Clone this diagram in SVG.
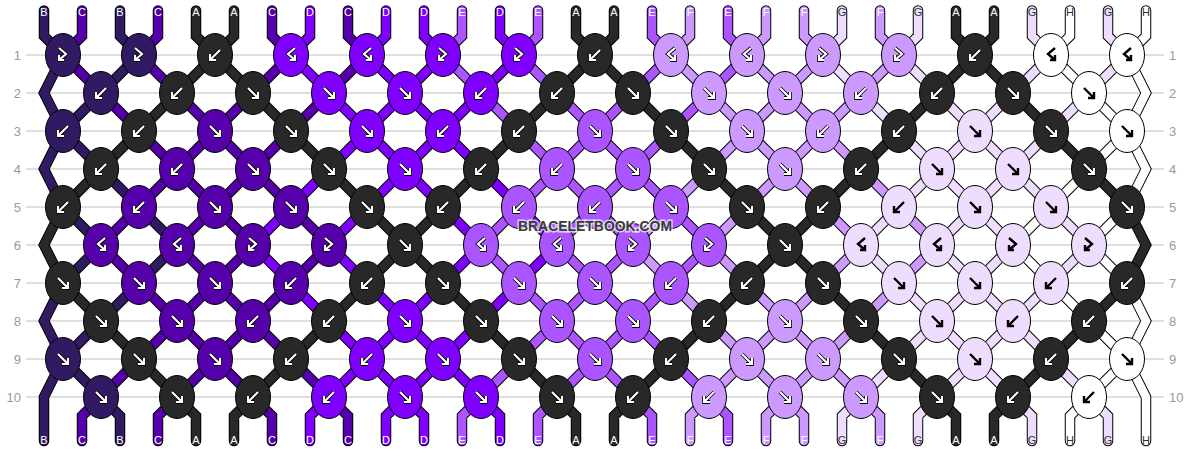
<svg xmlns="http://www.w3.org/2000/svg" xmlns:xlink="http://www.w3.org/1999/xlink" width="1190" height="452" viewBox="0 0 1190 452">
<style>
.A{fill:#282828}.B{fill:#301a62}.C{fill:#5500aa}.D{fill:#8000ff}.E{fill:#aa55ff}.F{fill:#cc99ff}.G{fill:#eeddff}.H{fill:#ffffff}
.lb{font-family:"Liberation Sans",Arial,sans-serif;font-size:11px;text-anchor:middle}
.lw{fill:#ffffff}.ld{fill:#333333}
.rn{font-family:"Liberation Sans",Arial,sans-serif;font-size:13px;fill:#999999}
</style>
<defs>
<ellipse id="kn" rx="17.5" ry="21.5" stroke="#000" stroke-width="1"/>
<path id="sF" fill="none" d="M-5-5L5 5M5-1V5H-1"/>
<path id="sB" fill="none" d="M5-5L-5 5M-5-1V5H1"/>
<path id="sFB" fill="none" d="M-4-7L3-1L-4 5M-4 0V5H1"/>
<path id="sBF" fill="none" d="M4-7L-3-1L4 5M4 0V5H-1"/>
<g id="wF" stroke-linejoin="miter"><use href="#sF" stroke="#000" stroke-width="3.8"/><use href="#sF" stroke="#fff" stroke-width="2.2"/></g>
<g id="wB" stroke-linejoin="miter"><use href="#sB" stroke="#000" stroke-width="3.8"/><use href="#sB" stroke="#fff" stroke-width="2.2"/></g>
<g id="wFB" stroke-linejoin="miter"><use href="#sFB" stroke="#000" stroke-width="3.8"/><use href="#sFB" stroke="#fff" stroke-width="2.2"/></g>
<g id="wBF" stroke-linejoin="miter"><use href="#sBF" stroke="#000" stroke-width="3.8"/><use href="#sBF" stroke="#fff" stroke-width="2.2"/></g>
<use id="bF" href="#sF" stroke="#000" stroke-width="2.4"/>
<use id="bB" href="#sB" stroke="#000" stroke-width="2.4"/>
<use id="bFB" href="#sFB" stroke="#000" stroke-width="2.4"/>
<use id="bBF" href="#sBF" stroke="#000" stroke-width="2.4"/>
<path id="pA" d="M215 55l-38 38M595 55l-38 38M975 55l-38 38M215 55l38 38M595 55l38 38M975 55l38 38M177 93l-38 38M557 93l-38 38M937 93l-38 38M253 93l38 38M633 93l38 38M1013 93l38 38M139 131l-38 38M519 131l-38 38M899 131l-38 38M291 131l38 38M671 131l38 38M1051 131l38 38M101 169l-38 38M481 169l-38 38M861 169l-38 38M329 169l38 38M709 169l38 38M1089 169l38 38M443 207l-38 38M823 207l-38 38M367 207l38 38M747 207l38 38M63 207L44 245L63 283M1127 207L1146 245L1127 283M405 245l-38 38M785 245l-38 38M405 245l38 38M785 245l38 38M367 283l-38 38M747 283l-38 38M1127 283l-38 38M63 283l38 38M443 283l38 38M823 283l38 38M329 321l-38 38M709 321l-38 38M1089 321l-38 38M101 321l38 38M481 321l38 38M861 321l38 38M291 359l-38 38M671 359l-38 38M1051 359l-38 38M139 359l38 38M519 359l38 38M899 359l38 38M253 397l-19 19V441M633 397l-19 19V441M1013 397l-19 19V441M177 397l19 19V441M557 397l19 19V441M937 397l19 19V441M196 10.5V36l19 19M234 10.5V36l-19 19M576 10.5V36l19 19M614 10.5V36l-19 19M956 10.5V36l19 19M994 10.5V36l-19 19"/>
<path id="pB" d="M139 55l-38 38M101 93l-38 38M63 131l38 38M101 169l38 38M63 207l38 38M139 207l38 38M101 245l-38 38M177 245l-38 38M139 283l-38 38M101 321l-38 38M63 359l38 38M101 397l19 19V441M44 10.5V36l19 19M120 10.5V36l19 19M63 55L44 93L63 131M63 131L44 169L63 207M63 283L44 321L63 359M63 359L44 397V441"/>
<path id="pC" d="M63 55l38 38M139 55l38 38M291 55l-38 38M367 55l-38 38M101 93l38 38M177 93l38 38M253 93l-38 38M329 93l-38 38M215 131l-38 38M291 131l-38 38M139 131l38 38M215 131l38 38M177 169l-38 38M253 169l-38 38M177 169l38 38M253 169l38 38M139 207l-38 38M215 207l-38 38M215 207l38 38M291 207l38 38M253 245l-38 38M329 245l-38 38M101 245l38 38M177 245l38 38M215 283l-38 38M291 283l-38 38M139 283l38 38M215 283l38 38M177 321l-38 38M253 321l-38 38M177 321l38 38M253 321l38 38M139 359l-38 38M215 359l-38 38M215 359l38 38M291 359l38 38M101 397l-19 19V441M177 397l-19 19V441M253 397l19 19V441M329 397l19 19V441M82 10.5V36l-19 19M158 10.5V36l-19 19M272 10.5V36l19 19M348 10.5V36l19 19"/>
<path id="pD" d="M291 55l38 38M367 55l38 38M443 55l-38 38M519 55l-38 38M405 93l-38 38M481 93l-38 38M329 93l38 38M405 93l38 38M367 131l-38 38M443 131l-38 38M367 131l38 38M443 131l38 38M329 169l-38 38M405 169l-38 38M405 169l38 38M481 169l38 38M291 207l-38 38M367 207l-38 38M443 207l38 38M519 207l38 38M481 245l-38 38M557 245l-38 38M253 245l38 38M329 245l38 38M443 283l-38 38M519 283l-38 38M291 283l38 38M367 283l38 38M405 321l-38 38M481 321l-38 38M329 321l38 38M405 321l38 38M367 359l-38 38M443 359l-38 38M367 359l38 38M443 359l38 38M329 397l-19 19V441M405 397l-19 19V441M405 397l19 19V441M481 397l19 19V441M310 10.5V36l-19 19M386 10.5V36l-19 19M424 10.5V36l19 19M500 10.5V36l19 19"/>
<path id="pE" d="M443 55l38 38M519 55l38 38M671 55l-38 38M747 55l-38 38M633 93l-38 38M709 93l-38 38M481 93l38 38M557 93l38 38M595 131l-38 38M671 131l-38 38M519 131l38 38M595 131l38 38M557 169l-38 38M633 169l-38 38M557 169l38 38M633 169l38 38M519 207l-38 38M595 207l-38 38M595 207l38 38M671 207l38 38M633 245l-38 38M709 245l-38 38M481 245l38 38M557 245l38 38M595 283l-38 38M671 283l-38 38M519 283l38 38M595 283l38 38M557 321l-38 38M633 321l-38 38M557 321l38 38M633 321l38 38M519 359l-38 38M595 359l-38 38M595 359l38 38M671 359l38 38M481 397l-19 19V441M557 397l-19 19V441M633 397l19 19V441M709 397l19 19V441M462 10.5V36l-19 19M538 10.5V36l-19 19M652 10.5V36l19 19M728 10.5V36l19 19"/>
<path id="pF" d="M671 55l38 38M747 55l38 38M823 55l-38 38M899 55l-38 38M785 93l-38 38M861 93l-38 38M709 93l38 38M785 93l38 38M747 131l-38 38M823 131l-38 38M747 131l38 38M823 131l38 38M709 169l-38 38M785 169l-38 38M785 169l38 38M861 169l38 38M671 207l-38 38M747 207l-38 38M823 207l38 38M899 207l38 38M861 245l-38 38M937 245l-38 38M633 245l38 38M709 245l38 38M823 283l-38 38M899 283l-38 38M671 283l38 38M747 283l38 38M785 321l-38 38M861 321l-38 38M709 321l38 38M785 321l38 38M747 359l-38 38M823 359l-38 38M747 359l38 38M823 359l38 38M709 397l-19 19V441M785 397l-19 19V441M785 397l19 19V441M861 397l19 19V441M690 10.5V36l-19 19M766 10.5V36l-19 19M804 10.5V36l19 19M880 10.5V36l19 19"/>
<path id="pG" d="M823 55l38 38M899 55l38 38M1051 55l-38 38M1127 55l-38 38M1013 93l-38 38M1089 93l-38 38M861 93l38 38M937 93l38 38M975 131l-38 38M1051 131l-38 38M899 131l38 38M975 131l38 38M937 169l-38 38M1013 169l-38 38M937 169l38 38M1013 169l38 38M899 207l-38 38M975 207l-38 38M975 207l38 38M1051 207l38 38M1013 245l-38 38M1089 245l-38 38M861 245l38 38M937 245l38 38M975 283l-38 38M1051 283l-38 38M899 283l38 38M975 283l38 38M937 321l-38 38M1013 321l-38 38M937 321l38 38M1013 321l38 38M899 359l-38 38M975 359l-38 38M975 359l38 38M1051 359l38 38M861 397l-19 19V441M937 397l-19 19V441M1013 397l19 19V441M1089 397l19 19V441M842 10.5V36l-19 19M918 10.5V36l-19 19M1032 10.5V36l19 19M1108 10.5V36l19 19"/>
<path id="pH" d="M1051 55l38 38M1089 93l38 38M1127 131l-38 38M1089 169l-38 38M1051 207l-38 38M1127 207l-38 38M1013 245l38 38M1089 245l38 38M1051 283l38 38M1089 321l38 38M1127 359l-38 38M1089 397l-19 19V441M1070 10.5V36l-19 19M1146 10.5V36l-19 19M1127 55L1146 93L1127 131M1127 131L1146 169L1127 207M1127 283L1146 321L1127 359M1127 359L1146 397V441"/>
</defs>
<rect width="1190" height="452" fill="#ffffff"/>
<g id="grid" stroke="#c0c0c0" stroke-width="1" fill="none">
<path d="M26 55H1164M26 93H1164M26 131H1164M26 169H1164M26 207H1164M26 245H1164M26 283H1164M26 321H1164M26 359H1164M26 397H1164"/>
</g>
<g id="row-numbers">
<text class="rn" x="21" y="60" text-anchor="end">1</text><text class="rn" x="21" y="98" text-anchor="end">2</text><text class="rn" x="21" y="136" text-anchor="end">3</text><text class="rn" x="21" y="174" text-anchor="end">4</text><text class="rn" x="21" y="212" text-anchor="end">5</text><text class="rn" x="21" y="250" text-anchor="end">6</text><text class="rn" x="21" y="288" text-anchor="end">7</text><text class="rn" x="21" y="326" text-anchor="end">8</text><text class="rn" x="21" y="364" text-anchor="end">9</text><text class="rn" x="21" y="402" text-anchor="end">10</text>
<text class="rn" x="1169" y="60">1</text><text class="rn" x="1169" y="98">2</text><text class="rn" x="1169" y="136">3</text><text class="rn" x="1169" y="174">4</text><text class="rn" x="1169" y="212">5</text><text class="rn" x="1169" y="250">6</text><text class="rn" x="1169" y="288">7</text><text class="rn" x="1169" y="326">8</text><text class="rn" x="1169" y="364">9</text><text class="rn" x="1169" y="402">10</text>
</g>
<g id="threads" fill="none" stroke-linecap="round" stroke-linejoin="miter">
<g stroke="#000" stroke-width="10.5"><use href="#pA"/><use href="#pB"/><use href="#pC"/><use href="#pD"/><use href="#pE"/><use href="#pF"/><use href="#pG"/><use href="#pH"/></g>
<g stroke-width="8.5"><use href="#pA" stroke="#282828"/><use href="#pB" stroke="#301a62"/><use href="#pC" stroke="#5500aa"/><use href="#pD" stroke="#8000ff"/><use href="#pE" stroke="#aa55ff"/><use href="#pF" stroke="#cc99ff"/><use href="#pG" stroke="#eeddff"/><use href="#pH" stroke="#ffffff"/></g>
</g>
<g id="labels-top">
<text class="lb lw" x="44" y="16">B</text><text class="lb lw" x="82" y="16">C</text><text class="lb lw" x="120" y="16">B</text><text class="lb lw" x="158" y="16">C</text><text class="lb lw" x="196" y="16">A</text><text class="lb lw" x="234" y="16">A</text><text class="lb lw" x="272" y="16">C</text><text class="lb lw" x="310" y="16">D</text><text class="lb lw" x="348" y="16">C</text><text class="lb lw" x="386" y="16">D</text><text class="lb lw" x="424" y="16">D</text><text class="lb lw" x="462" y="16">E</text><text class="lb lw" x="500" y="16">D</text><text class="lb lw" x="538" y="16">E</text><text class="lb lw" x="576" y="16">A</text><text class="lb lw" x="614" y="16">A</text><text class="lb lw" x="652" y="16">E</text><text class="lb lw" x="690" y="16">F</text><text class="lb lw" x="728" y="16">E</text><text class="lb lw" x="766" y="16">F</text><text class="lb lw" x="804" y="16">F</text><text class="lb ld" x="842" y="16">G</text><text class="lb lw" x="880" y="16">F</text><text class="lb ld" x="918" y="16">G</text><text class="lb lw" x="956" y="16">A</text><text class="lb lw" x="994" y="16">A</text><text class="lb ld" x="1032" y="16">G</text><text class="lb ld" x="1070" y="16">H</text><text class="lb ld" x="1108" y="16">G</text><text class="lb ld" x="1146" y="16">H</text>
</g>
<g id="labels-bottom">
<text class="lb lw" x="44" y="444">B</text><text class="lb lw" x="82" y="444">C</text><text class="lb lw" x="120" y="444">B</text><text class="lb lw" x="158" y="444">C</text><text class="lb lw" x="196" y="444">A</text><text class="lb lw" x="234" y="444">A</text><text class="lb lw" x="272" y="444">C</text><text class="lb lw" x="310" y="444">D</text><text class="lb lw" x="348" y="444">C</text><text class="lb lw" x="386" y="444">D</text><text class="lb lw" x="424" y="444">D</text><text class="lb lw" x="462" y="444">E</text><text class="lb lw" x="500" y="444">D</text><text class="lb lw" x="538" y="444">E</text><text class="lb lw" x="576" y="444">A</text><text class="lb lw" x="614" y="444">A</text><text class="lb lw" x="652" y="444">E</text><text class="lb lw" x="690" y="444">F</text><text class="lb lw" x="728" y="444">E</text><text class="lb lw" x="766" y="444">F</text><text class="lb lw" x="804" y="444">F</text><text class="lb ld" x="842" y="444">G</text><text class="lb lw" x="880" y="444">F</text><text class="lb ld" x="918" y="444">G</text><text class="lb lw" x="956" y="444">A</text><text class="lb lw" x="994" y="444">A</text><text class="lb ld" x="1032" y="444">G</text><text class="lb ld" x="1070" y="444">H</text><text class="lb ld" x="1108" y="444">G</text><text class="lb ld" x="1146" y="444">H</text>
</g>
<g id="knots">
<g id="r1k1" transform="translate(63 55)"><use href="#kn" class="B"/><use href="#wFB"/></g>
<g id="r1k2" transform="translate(139 55)"><use href="#kn" class="B"/><use href="#wFB"/></g>
<g id="r1k3" transform="translate(215 55)"><use href="#kn" class="A"/><use href="#wB"/></g>
<g id="r1k4" transform="translate(291 55)"><use href="#kn" class="D"/><use href="#wBF"/></g>
<g id="r1k5" transform="translate(367 55)"><use href="#kn" class="D"/><use href="#wBF"/></g>
<g id="r1k6" transform="translate(443 55)"><use href="#kn" class="D"/><use href="#wFB"/></g>
<g id="r1k7" transform="translate(519 55)"><use href="#kn" class="D"/><use href="#wFB"/></g>
<g id="r1k8" transform="translate(595 55)"><use href="#kn" class="A"/><use href="#wB"/></g>
<g id="r1k9" transform="translate(671 55)"><use href="#kn" class="F"/><use href="#wBF"/></g>
<g id="r1k10" transform="translate(747 55)"><use href="#kn" class="F"/><use href="#wBF"/></g>
<g id="r1k11" transform="translate(823 55)"><use href="#kn" class="F"/><use href="#wFB"/></g>
<g id="r1k12" transform="translate(899 55)"><use href="#kn" class="F"/><use href="#wFB"/></g>
<g id="r1k13" transform="translate(975 55)"><use href="#kn" class="A"/><use href="#wB"/></g>
<g id="r1k14" transform="translate(1051 55)"><use href="#kn" class="H"/><use href="#bBF"/></g>
<g id="r1k15" transform="translate(1127 55)"><use href="#kn" class="H"/><use href="#bBF"/></g>
<g id="r2k1" transform="translate(101 93)"><use href="#kn" class="B"/><use href="#wB"/></g>
<g id="r2k2" transform="translate(177 93)"><use href="#kn" class="A"/><use href="#wB"/></g>
<g id="r2k3" transform="translate(253 93)"><use href="#kn" class="A"/><use href="#wF"/></g>
<g id="r2k4" transform="translate(329 93)"><use href="#kn" class="D"/><use href="#wF"/></g>
<g id="r2k5" transform="translate(405 93)"><use href="#kn" class="D"/><use href="#wF"/></g>
<g id="r2k6" transform="translate(481 93)"><use href="#kn" class="D"/><use href="#wB"/></g>
<g id="r2k7" transform="translate(557 93)"><use href="#kn" class="A"/><use href="#wB"/></g>
<g id="r2k8" transform="translate(633 93)"><use href="#kn" class="A"/><use href="#wF"/></g>
<g id="r2k9" transform="translate(709 93)"><use href="#kn" class="F"/><use href="#wF"/></g>
<g id="r2k10" transform="translate(785 93)"><use href="#kn" class="F"/><use href="#wF"/></g>
<g id="r2k11" transform="translate(861 93)"><use href="#kn" class="F"/><use href="#wB"/></g>
<g id="r2k12" transform="translate(937 93)"><use href="#kn" class="A"/><use href="#wB"/></g>
<g id="r2k13" transform="translate(1013 93)"><use href="#kn" class="A"/><use href="#wF"/></g>
<g id="r2k14" transform="translate(1089 93)"><use href="#kn" class="H"/><use href="#bF"/></g>
<g id="r3k1" transform="translate(63 131)"><use href="#kn" class="B"/><use href="#wB"/></g>
<g id="r3k2" transform="translate(139 131)"><use href="#kn" class="A"/><use href="#wB"/></g>
<g id="r3k3" transform="translate(215 131)"><use href="#kn" class="C"/><use href="#wF"/></g>
<g id="r3k4" transform="translate(291 131)"><use href="#kn" class="A"/><use href="#wF"/></g>
<g id="r3k5" transform="translate(367 131)"><use href="#kn" class="D"/><use href="#wF"/></g>
<g id="r3k6" transform="translate(443 131)"><use href="#kn" class="D"/><use href="#wB"/></g>
<g id="r3k7" transform="translate(519 131)"><use href="#kn" class="A"/><use href="#wB"/></g>
<g id="r3k8" transform="translate(595 131)"><use href="#kn" class="E"/><use href="#wF"/></g>
<g id="r3k9" transform="translate(671 131)"><use href="#kn" class="A"/><use href="#wF"/></g>
<g id="r3k10" transform="translate(747 131)"><use href="#kn" class="F"/><use href="#wF"/></g>
<g id="r3k11" transform="translate(823 131)"><use href="#kn" class="F"/><use href="#wB"/></g>
<g id="r3k12" transform="translate(899 131)"><use href="#kn" class="A"/><use href="#wB"/></g>
<g id="r3k13" transform="translate(975 131)"><use href="#kn" class="G"/><use href="#bF"/></g>
<g id="r3k14" transform="translate(1051 131)"><use href="#kn" class="A"/><use href="#wF"/></g>
<g id="r3k15" transform="translate(1127 131)"><use href="#kn" class="H"/><use href="#bF"/></g>
<g id="r4k1" transform="translate(101 169)"><use href="#kn" class="A"/><use href="#wB"/></g>
<g id="r4k2" transform="translate(177 169)"><use href="#kn" class="C"/><use href="#wB"/></g>
<g id="r4k3" transform="translate(253 169)"><use href="#kn" class="C"/><use href="#wF"/></g>
<g id="r4k4" transform="translate(329 169)"><use href="#kn" class="A"/><use href="#wF"/></g>
<g id="r4k5" transform="translate(405 169)"><use href="#kn" class="D"/><use href="#wF"/></g>
<g id="r4k6" transform="translate(481 169)"><use href="#kn" class="A"/><use href="#wB"/></g>
<g id="r4k7" transform="translate(557 169)"><use href="#kn" class="E"/><use href="#wB"/></g>
<g id="r4k8" transform="translate(633 169)"><use href="#kn" class="E"/><use href="#wF"/></g>
<g id="r4k9" transform="translate(709 169)"><use href="#kn" class="A"/><use href="#wF"/></g>
<g id="r4k10" transform="translate(785 169)"><use href="#kn" class="F"/><use href="#wF"/></g>
<g id="r4k11" transform="translate(861 169)"><use href="#kn" class="A"/><use href="#wB"/></g>
<g id="r4k12" transform="translate(937 169)"><use href="#kn" class="G"/><use href="#bF"/></g>
<g id="r4k13" transform="translate(1013 169)"><use href="#kn" class="G"/><use href="#bF"/></g>
<g id="r4k14" transform="translate(1089 169)"><use href="#kn" class="A"/><use href="#wF"/></g>
<g id="r5k1" transform="translate(63 207)"><use href="#kn" class="A"/><use href="#wB"/></g>
<g id="r5k2" transform="translate(139 207)"><use href="#kn" class="C"/><use href="#wB"/></g>
<g id="r5k3" transform="translate(215 207)"><use href="#kn" class="C"/><use href="#wF"/></g>
<g id="r5k4" transform="translate(291 207)"><use href="#kn" class="C"/><use href="#wF"/></g>
<g id="r5k5" transform="translate(367 207)"><use href="#kn" class="A"/><use href="#wF"/></g>
<g id="r5k6" transform="translate(443 207)"><use href="#kn" class="A"/><use href="#wB"/></g>
<g id="r5k7" transform="translate(519 207)"><use href="#kn" class="E"/><use href="#wB"/></g>
<g id="r5k8" transform="translate(595 207)"><use href="#kn" class="E"/><use href="#wB"/></g>
<g id="r5k9" transform="translate(671 207)"><use href="#kn" class="E"/><use href="#wF"/></g>
<g id="r5k10" transform="translate(747 207)"><use href="#kn" class="A"/><use href="#wF"/></g>
<g id="r5k11" transform="translate(823 207)"><use href="#kn" class="A"/><use href="#wB"/></g>
<g id="r5k12" transform="translate(899 207)"><use href="#kn" class="G"/><use href="#bB"/></g>
<g id="r5k13" transform="translate(975 207)"><use href="#kn" class="G"/><use href="#bF"/></g>
<g id="r5k14" transform="translate(1051 207)"><use href="#kn" class="G"/><use href="#bF"/></g>
<g id="r5k15" transform="translate(1127 207)"><use href="#kn" class="A"/><use href="#wF"/></g>
<g id="r6k1" transform="translate(101 245)"><use href="#kn" class="C"/><use href="#wBF"/></g>
<g id="r6k2" transform="translate(177 245)"><use href="#kn" class="C"/><use href="#wBF"/></g>
<g id="r6k3" transform="translate(253 245)"><use href="#kn" class="C"/><use href="#wFB"/></g>
<g id="r6k4" transform="translate(329 245)"><use href="#kn" class="C"/><use href="#wFB"/></g>
<g id="r6k5" transform="translate(405 245)"><use href="#kn" class="A"/><use href="#wF"/></g>
<g id="r6k6" transform="translate(481 245)"><use href="#kn" class="E"/><use href="#wBF"/></g>
<g id="r6k7" transform="translate(557 245)"><use href="#kn" class="E"/><use href="#wBF"/></g>
<g id="r6k8" transform="translate(633 245)"><use href="#kn" class="E"/><use href="#wFB"/></g>
<g id="r6k9" transform="translate(709 245)"><use href="#kn" class="E"/><use href="#wFB"/></g>
<g id="r6k10" transform="translate(785 245)"><use href="#kn" class="A"/><use href="#wF"/></g>
<g id="r6k11" transform="translate(861 245)"><use href="#kn" class="G"/><use href="#bBF"/></g>
<g id="r6k12" transform="translate(937 245)"><use href="#kn" class="G"/><use href="#bBF"/></g>
<g id="r6k13" transform="translate(1013 245)"><use href="#kn" class="G"/><use href="#bFB"/></g>
<g id="r6k14" transform="translate(1089 245)"><use href="#kn" class="G"/><use href="#bFB"/></g>
<g id="r7k1" transform="translate(63 283)"><use href="#kn" class="A"/><use href="#wF"/></g>
<g id="r7k2" transform="translate(139 283)"><use href="#kn" class="C"/><use href="#wF"/></g>
<g id="r7k3" transform="translate(215 283)"><use href="#kn" class="C"/><use href="#wF"/></g>
<g id="r7k4" transform="translate(291 283)"><use href="#kn" class="C"/><use href="#wB"/></g>
<g id="r7k5" transform="translate(367 283)"><use href="#kn" class="A"/><use href="#wB"/></g>
<g id="r7k6" transform="translate(443 283)"><use href="#kn" class="A"/><use href="#wF"/></g>
<g id="r7k7" transform="translate(519 283)"><use href="#kn" class="E"/><use href="#wF"/></g>
<g id="r7k8" transform="translate(595 283)"><use href="#kn" class="E"/><use href="#wF"/></g>
<g id="r7k9" transform="translate(671 283)"><use href="#kn" class="E"/><use href="#wB"/></g>
<g id="r7k10" transform="translate(747 283)"><use href="#kn" class="A"/><use href="#wB"/></g>
<g id="r7k11" transform="translate(823 283)"><use href="#kn" class="A"/><use href="#wF"/></g>
<g id="r7k12" transform="translate(899 283)"><use href="#kn" class="G"/><use href="#bF"/></g>
<g id="r7k13" transform="translate(975 283)"><use href="#kn" class="G"/><use href="#bF"/></g>
<g id="r7k14" transform="translate(1051 283)"><use href="#kn" class="G"/><use href="#bB"/></g>
<g id="r7k15" transform="translate(1127 283)"><use href="#kn" class="A"/><use href="#wB"/></g>
<g id="r8k1" transform="translate(101 321)"><use href="#kn" class="A"/><use href="#wF"/></g>
<g id="r8k2" transform="translate(177 321)"><use href="#kn" class="C"/><use href="#wF"/></g>
<g id="r8k3" transform="translate(253 321)"><use href="#kn" class="C"/><use href="#wB"/></g>
<g id="r8k4" transform="translate(329 321)"><use href="#kn" class="A"/><use href="#wB"/></g>
<g id="r8k5" transform="translate(405 321)"><use href="#kn" class="D"/><use href="#wF"/></g>
<g id="r8k6" transform="translate(481 321)"><use href="#kn" class="A"/><use href="#wF"/></g>
<g id="r8k7" transform="translate(557 321)"><use href="#kn" class="E"/><use href="#wF"/></g>
<g id="r8k8" transform="translate(633 321)"><use href="#kn" class="E"/><use href="#wF"/></g>
<g id="r8k9" transform="translate(709 321)"><use href="#kn" class="A"/><use href="#wB"/></g>
<g id="r8k10" transform="translate(785 321)"><use href="#kn" class="F"/><use href="#wF"/></g>
<g id="r8k11" transform="translate(861 321)"><use href="#kn" class="A"/><use href="#wF"/></g>
<g id="r8k12" transform="translate(937 321)"><use href="#kn" class="G"/><use href="#bF"/></g>
<g id="r8k13" transform="translate(1013 321)"><use href="#kn" class="G"/><use href="#bB"/></g>
<g id="r8k14" transform="translate(1089 321)"><use href="#kn" class="A"/><use href="#wB"/></g>
<g id="r9k1" transform="translate(63 359)"><use href="#kn" class="B"/><use href="#wF"/></g>
<g id="r9k2" transform="translate(139 359)"><use href="#kn" class="A"/><use href="#wF"/></g>
<g id="r9k3" transform="translate(215 359)"><use href="#kn" class="C"/><use href="#wF"/></g>
<g id="r9k4" transform="translate(291 359)"><use href="#kn" class="A"/><use href="#wB"/></g>
<g id="r9k5" transform="translate(367 359)"><use href="#kn" class="D"/><use href="#wB"/></g>
<g id="r9k6" transform="translate(443 359)"><use href="#kn" class="D"/><use href="#wF"/></g>
<g id="r9k7" transform="translate(519 359)"><use href="#kn" class="A"/><use href="#wF"/></g>
<g id="r9k8" transform="translate(595 359)"><use href="#kn" class="E"/><use href="#wF"/></g>
<g id="r9k9" transform="translate(671 359)"><use href="#kn" class="A"/><use href="#wB"/></g>
<g id="r9k10" transform="translate(747 359)"><use href="#kn" class="F"/><use href="#wF"/></g>
<g id="r9k11" transform="translate(823 359)"><use href="#kn" class="F"/><use href="#wF"/></g>
<g id="r9k12" transform="translate(899 359)"><use href="#kn" class="A"/><use href="#wF"/></g>
<g id="r9k13" transform="translate(975 359)"><use href="#kn" class="G"/><use href="#bF"/></g>
<g id="r9k14" transform="translate(1051 359)"><use href="#kn" class="A"/><use href="#wB"/></g>
<g id="r9k15" transform="translate(1127 359)"><use href="#kn" class="H"/><use href="#bF"/></g>
<g id="r10k1" transform="translate(101 397)"><use href="#kn" class="B"/><use href="#wF"/></g>
<g id="r10k2" transform="translate(177 397)"><use href="#kn" class="A"/><use href="#wF"/></g>
<g id="r10k3" transform="translate(253 397)"><use href="#kn" class="A"/><use href="#wB"/></g>
<g id="r10k4" transform="translate(329 397)"><use href="#kn" class="D"/><use href="#wB"/></g>
<g id="r10k5" transform="translate(405 397)"><use href="#kn" class="D"/><use href="#wF"/></g>
<g id="r10k6" transform="translate(481 397)"><use href="#kn" class="D"/><use href="#wF"/></g>
<g id="r10k7" transform="translate(557 397)"><use href="#kn" class="A"/><use href="#wF"/></g>
<g id="r10k8" transform="translate(633 397)"><use href="#kn" class="A"/><use href="#wB"/></g>
<g id="r10k9" transform="translate(709 397)"><use href="#kn" class="F"/><use href="#wB"/></g>
<g id="r10k10" transform="translate(785 397)"><use href="#kn" class="F"/><use href="#wF"/></g>
<g id="r10k11" transform="translate(861 397)"><use href="#kn" class="F"/><use href="#wF"/></g>
<g id="r10k12" transform="translate(937 397)"><use href="#kn" class="A"/><use href="#wF"/></g>
<g id="r10k13" transform="translate(1013 397)"><use href="#kn" class="A"/><use href="#wB"/></g>
<g id="r10k14" transform="translate(1089 397)"><use href="#kn" class="H"/><use href="#bB"/></g>
</g>
<text id="watermark" x="595" y="231" text-anchor="middle" font-family="'Liberation Sans',Arial,sans-serif" font-weight="bold" font-size="14.5" fill="#3a3a3a" stroke="#ffffff" stroke-opacity="0.7" stroke-width="3" paint-order="stroke" textLength="154" lengthAdjust="spacingAndGlyphs">BRACELETBOOK.COM</text>
</svg>
